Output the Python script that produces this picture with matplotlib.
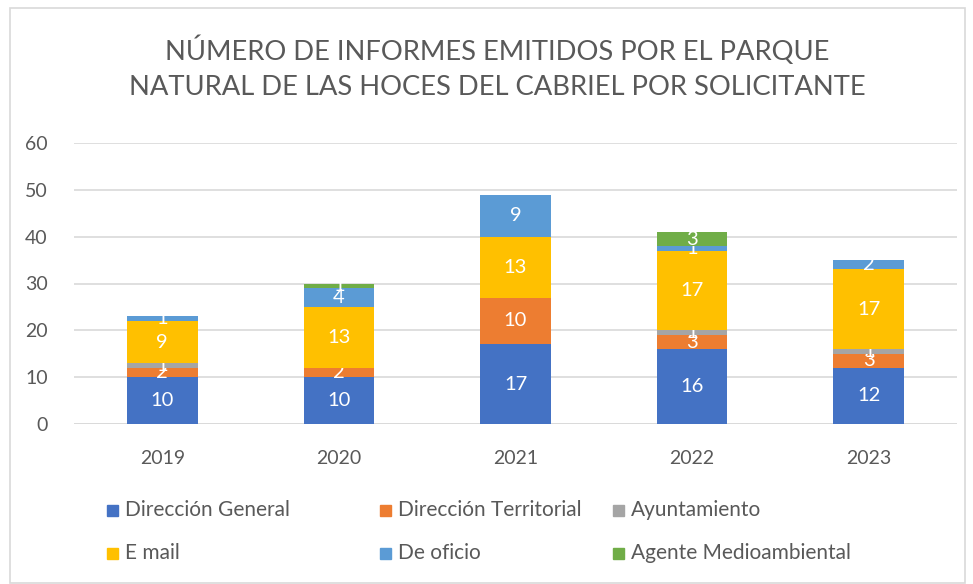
import matplotlib
matplotlib.use("Agg")
import matplotlib.pyplot as plt
from matplotlib.patches import Rectangle

years = ["2019", "2020", "2021", "2022", "2023"]
series_names = ["Dirección General", "Dirección Territorial", "Ayuntamiento",
                "E mail", "De oficio", "Agente Medioambiental"]
direccion_general = [10, 10, 17, 16, 12]
direccion_territorial = [2, 2, 10, 3, 3]
ayuntamiento = [1, 0, 0, 1, 1]
e_mail = [9, 13, 13, 17, 17]
de_oficio = [1, 4, 9, 1, 2]
agente = [0, 1, 0, 3, 0]
colors = ["#4472C4", "#ED7D31", "#A5A5A5", "#FFC000", "#5B9BD5", "#70AD47"]

plt.rcParams['font.family'] = ['Lato', 'DejaVu Sans']
grey = "#595959"

fig = plt.figure(figsize=(9.73, 5.84), dpi=100)
ax = fig.add_axes([74/973, 1-424/584, (957-74)/973, (424-143)/584])

data = [direccion_general, direccion_territorial, ayuntamiento, e_mail, de_oficio, agente]
x = list(range(len(years)))
bottom = [0]*len(years)
for vals, col, name in zip(data, colors, series_names):
    bars = ax.bar(x, vals, 0.4, bottom=bottom, color=col, label=name, zorder=3)
    ax.bar_label(bars, labels=[str(v) if v else "" for v in vals],
                 label_type="center", color="white", fontsize=14.5)
    bottom = [b + v for b, v in zip(bottom, vals)]

ax.set_xlim(-0.5, len(years)-0.5)
ax.set_ylim(0, 60)
ax.set_yticks(range(0, 61, 10))
ax.set_xticks(x)
ax.set_xticklabels(years)
ax.tick_params(axis="both", length=0, labelsize=14, colors=grey)
ax.tick_params(axis="x", pad=19)
ax.tick_params(axis="y", pad=19)
ax.grid(axis="y", color="#D9D9D9", linewidth=1.2, zorder=0)
for s in ax.spines.values():
    s.set_visible(False)
ax.axhline(0, color="#D9D9D9", linewidth=1.2, zorder=2)

fig.text(497/973, 1-50/584, "NÚMERO DE INFORMES EMITIDOS POR EL PARQUE",
         ha="center", va="center", fontsize=19.7, color=grey)
fig.text(497/973, 1-88/584, "NATURAL DE LAS HOCES DEL CABRIEL POR SOLICITANTE",
         ha="center", va="center", fontsize=19.7, color=grey)

# legend
lx = [107, 380, 613]
ly = [510, 553]
for i, (name, col) in enumerate(zip(series_names, colors)):
    cx = lx[i % 3]
    cy = ly[i // 3]
    fig.patches.append(Rectangle((cx/973, 1-(cy+6)/584), 11/973, 11/584,
                                 transform=fig.transFigure, color=col))
    fig.text((cx+18)/973, 1-cy/584, name, ha="left", va="center",
             fontsize=15, color=grey)

fig.patches.append(Rectangle((10/973, 1-583/584), 955/973, 575/584,
                             transform=fig.transFigure, fill=False,
                             edgecolor="#D9D9D9", linewidth=1.2))

fig.savefig("out.png", dpi=100)
